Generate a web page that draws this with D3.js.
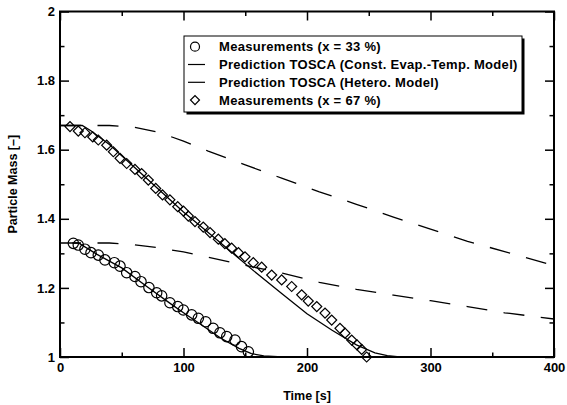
<!DOCTYPE html>
<html><head><meta charset="utf-8">
<script src="https://cdn.jsdelivr.net/npm/d3@7"></script>
<style>
html,body{margin:0;padding:0;background:#fff;}
svg{display:block;font-family:"Liberation Sans",Arial,Helvetica,sans-serif;font-weight:bold;}
</style></head>
<body><svg id="c" width="567" height="405"></svg>
<script>
// ---- data ----
const meas33T = [10.8,14.8,20.2,25.1,31,36.4,44,48.6,54,60.7,65.6,72,78.3,82.3,89,95.3,99.9,106.6,112,118,124,129.5,135,141.7,147,152.5];
const meas33M = [1.329,1.324,1.312,1.302,1.295,1.281,1.273,1.263,1.244,1.233,1.218,1.201,1.186,1.177,1.157,1.146,1.136,1.122,1.112,1.102,1.083,1.070,1.059,1.049,1.030,1.015];

const meas67T = [8.1,14.8,20.2,26.5,31,37.8,43.2,48.6,54,60.7,66.1,71.5,77.5,83,89,95.3,100,103.9,109.3,116,121.5,128.2,133.5,139,144.5,149.8,156.5,163.3,171.4,179.5,187.6,195.7,201,207.9,214.6,220,226.7,230.8,236.2,240.5,244.3,248.3];
const meas67M = [1.667,1.654,1.649,1.637,1.628,1.613,1.594,1.575,1.560,1.543,1.531,1.512,1.488,1.469,1.455,1.435,1.422,1.408,1.392,1.376,1.360,1.341,1.328,1.315,1.302,1.290,1.273,1.260,1.237,1.223,1.204,1.180,1.162,1.146,1.127,1.107,1.083,1.069,1.049,1.035,1.022,1.000];

const constT = [0,40,60,80,100,120,150,180,210,240,270,300,330,360,400];
const const67M = [1.67,1.67,1.665,1.65,1.625,1.596,1.556,1.517,1.478,1.442,1.405,1.37,1.335,1.305,1.265];
const const33M = [1.33,1.33,1.325,1.316,1.304,1.289,1.265,1.243,1.216,1.196,1.179,1.163,1.146,1.128,1.11];

const het33T = [10,15,30,50,70,90,100,115,130,145,155,165,180];
const het33M = [1.33,1.33,1.297,1.258,1.205,1.153,1.128,1.092,1.055,1.025,1.01,1.003,1.0];
const het67T = [0,18,25,40,60,80,100,120,140,160,180,200,220,240,255,265,275];
const het67M = [1.67,1.67,1.655,1.615,1.55,1.485,1.42,1.36,1.3,1.24,1.182,1.125,1.078,1.035,1.012,1.004,1.0];

const xMajor = [0,100,200,300,400];
const xMinor = [50,150,250,350];
const yMajor = [1,1.2,1.4,1.6,1.8,2];
const yMinor = [1.1,1.3,1.5,1.7,1.9];
const yLabels = ["1","1.2","1.4","1.6","1.8","2"];

const legendLabels = ["Measurements (x = 33 %)","Prediction TOSCA (Const. Evap.-Temp. Model)","Prediction TOSCA (Hetero. Model)","Measurements (x = 67 %)"];
const legendKinds = ["circle","line","line","diamond"];

// ---- layout ----
const svg = d3.select("#c");
const L=60, R=554, T=11.5, B=357;
const x = d3.scaleLinear().domain([0,400]).range([L,R]);
const y = d3.scaleLinear().domain([1,2]).range([B,T]);

const plot = svg.append("g");
svg.append("clipPath").attr("id","cp").append("rect").attr("x",L).attr("y",T).attr("width",R-L).attr("height",B-T);

const line = d3.line().x(d=>x(d[0])).y(d=>y(d[1]));
const z = (a,b)=>a.map((v,i)=>[v,b[i]]);

const lg = plot.append("g").attr("clip-path","url(#cp)");
lg.append("path").datum(z(constT,const67M)).attr("d",line).attr("fill","none").attr("stroke","#000").attr("stroke-width",1.3).attr("stroke-dasharray","21,16.5");
lg.append("path").datum(z(constT,const33M)).attr("d",line).attr("fill","none").attr("stroke","#000").attr("stroke-width",1.3).attr("stroke-dasharray","21,16.5");
lg.append("path").datum(z(het67T,het67M)).attr("d",line).attr("fill","none").attr("stroke","#000").attr("stroke-width",1.3);
lg.append("path").datum(z(het33T,het33M)).attr("d",line).attr("fill","none").attr("stroke","#000").attr("stroke-width",1.3);

const diamond = d3.symbol().type(d3.symbolSquare).size(50);
plot.selectAll(".dia").data(z(meas67T,meas67M)).join("path")
  .attr("d",diamond()).attr("transform",d=>`translate(${x(d[0])},${y(d[1])}) rotate(45)`)
  .attr("fill","none").attr("stroke","#000").attr("stroke-width",1.2);
plot.selectAll(".cir").data(z(meas33T,meas33M)).join("circle")
  .attr("cx",d=>x(d[0])).attr("cy",d=>y(d[1])).attr("r",5.2)
  .attr("fill","none").attr("stroke","#000").attr("stroke-width",1.2);

// ---- axes (ticks inward on all sides) ----
function ax(gen, tr){
  const g = svg.append("g").attr("transform",tr).call(gen);
  g.select(".domain").remove();
  g.selectAll(".tick line").attr("stroke","#000").attr("stroke-width",1.5);
  return g;
}
ax(d3.axisBottom(x).tickValues(xMajor).tickSize(-9).tickPadding(6).tickFormat(d3.format("d")), `translate(0,${B})`)
  .selectAll("text").attr("font-size",13).attr("font-weight","bold").attr("fill","#000").attr("dy","0.9em").attr("y",3);
ax(d3.axisBottom(x).tickValues(xMinor).tickSize(-4.5).tickFormat(""), `translate(0,${B})`);
ax(d3.axisTop(x).tickValues(xMajor).tickSize(-9).tickFormat(""), `translate(0,${T})`);
ax(d3.axisTop(x).tickValues(xMinor).tickSize(-4.5).tickFormat(""), `translate(0,${T})`);
ax(d3.axisLeft(y).tickValues(yMajor).tickSize(-9).tickPadding(5).tickFormat((d,i)=>yLabels[i]), `translate(${L},0)`)
  .selectAll("text").attr("font-size",13).attr("font-weight","bold").attr("fill","#000").attr("x",-5);
ax(d3.axisLeft(y).tickValues(yMinor).tickSize(-4.5).tickFormat(""), `translate(${L},0)`);
ax(d3.axisRight(y).tickValues(yMajor).tickSize(-9).tickFormat(""), `translate(${R},0)`);
ax(d3.axisRight(y).tickValues(yMinor).tickSize(-4.5).tickFormat(""), `translate(${R},0)`);

svg.append("rect").attr("x",L).attr("y",T).attr("width",R-L).attr("height",B-T)
  .attr("fill","none").attr("stroke","#000").attr("stroke-width",2);

svg.append("text").attr("x",(L+R)/2).attr("y",400).attr("text-anchor","middle").attr("font-size",12.5).text("Time [s]");
svg.append("text").attr("transform",`translate(17,${(T+B)/2}) rotate(-90)`).attr("text-anchor","middle").attr("font-size",12.5).text("Particle Mass [–]");

// ---- legend ----
const lx=184, ly=36, lw=338, lh=76;
const leg = svg.append("g");
leg.append("rect").attr("x",lx+2.5).attr("y",ly+2.5).attr("width",lw).attr("height",lh).attr("fill","#000");
leg.append("rect").attr("x",lx).attr("y",ly).attr("width",lw).attr("height",lh).attr("fill","#fff").attr("stroke","#000").attr("stroke-width",1);
legendLabels.forEach((t,i)=>{
  const cy = ly + 10.7 + i*17.8;
  const k = legendKinds[i];
  if(k==="circle") leg.append("circle").attr("cx",195).attr("cy",cy).attr("r",4.5).attr("fill","none").attr("stroke","#000").attr("stroke-width",1.2);
  else if(k==="diamond") leg.append("path").attr("d",d3.symbol().type(d3.symbolSquare).size(40)()).attr("transform",`translate(195,${cy}) rotate(45)`).attr("fill","none").attr("stroke","#000").attr("stroke-width",1.2);
  else leg.append("line").attr("x1",188).attr("x2",205).attr("y1",cy).attr("y2",cy).attr("stroke","#000").attr("stroke-width",1.2);
  leg.append("text").attr("x",219).attr("y",cy).attr("dy","0.36em").attr("font-size",13).attr("letter-spacing","0.3px").text(t);
});
</script></body></html>
